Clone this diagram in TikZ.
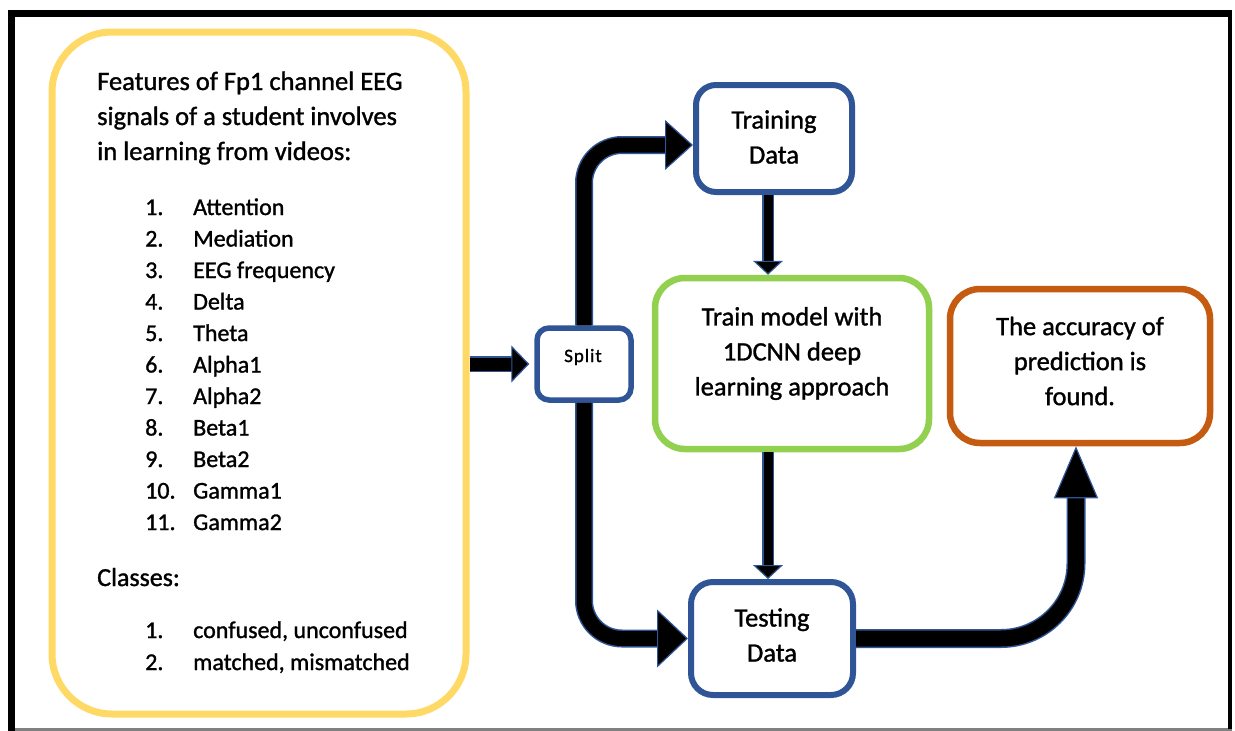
\documentclass[tikz,border=0pt]{standalone}
\usepackage{fontspec}
\setmainfont[FakeBold=1.2]{Carlito}
\usetikzlibrary{arrows.meta,calc}
\definecolor{ybor}{HTML}{FFD966}
\definecolor{bbor}{HTML}{2F5597}
\definecolor{gbor}{HTML}{92D050}
\definecolor{obor}{HTML}{C55A11}
\definecolor{aout}{HTML}{2F5597}
\begin{document}
\begin{tikzpicture}[x=1pt,y=-1pt,
  rbox/.style={draw=#1, rectangle, inner sep=0pt, fill=white},
  lt/.style={inner sep=0pt, anchor=base west, font=\fontsize{24}{29}\selectfont},
  ht/.style={inner sep=0pt, anchor=base west, font=\fontsize{26.5}{35}\selectfont},
  bt/.style={inner sep=0pt, align=center, font=\fontsize{26.5}{35}\selectfont},
  outl/.style={draw=aout, line width=#1},
  core/.style={draw=black, line width=#1},
]
\useasboundingbox (0,0) rectangle (1235,731);
% frame
\draw[gray, line width=2.5pt] (8,729.5) -- (1232,729.5);
\draw[line width=3.5pt] (1230,10) -- (1230,729);
\draw[line width=7pt] (8,13.5) -- (1232,13.5);
\draw[line width=7pt] (11.5,10) -- (11.5,731);

% boxes
\node[rbox=ybor, line width=7pt, rounded corners=60pt, minimum width=414pt, minimum height=682pt] (ybox) at (259,373) {};
\node[rbox=bbor, line width=5.5pt, rounded corners=12pt, minimum width=94pt, minimum height=72pt] (split) at (584,364) {};
\node[rbox=bbor, line width=6pt, rounded corners=20pt, minimum width=156pt, minimum height=107pt] (train) at (774,138.5) {};
\node[rbox=gbor, line width=6.5pt, rounded corners=30pt, minimum width=274pt, minimum height=171pt] (model) at (792,363.5) {};
\node[rbox=obor, line width=6.5pt, rounded corners=30pt, minimum width=260pt, minimum height=154pt] (acc) at (1080,366) {};
\node[rbox=bbor, line width=6pt, rounded corners=22pt, minimum width=162pt, minimum height=113pt] (test) at (772,638.5) {};

% texts in left box
\node[ht] (h1) at (97,90) {Features of Fp1 channel EEG};
\node[ht] (h2) at (97,125) {signals of a student involves};
\node[ht] (h3) at (97,160) {in learning from videos:};
\foreach \n/\t [count=\i] in {1./Attention,2./Mediation,3./EEG frequency,4./Delta,5./Theta,6./Alpha1,7./Alpha2,8./Beta1,9./Beta2,10./Gamma1,11./Gamma2}{
  \pgfmathsetmacro{\yy}{215+31.5*(\i-1)}
  \node[lt] (n\i) at (145,\yy) {\n};
  \node[lt] (f\i) at (193,\yy) {\t};
}
\node[ht, font=\fontsize{26}{35}\selectfont] (cl) at (97,586) {Classes:};
\node[lt] (cn1) at (145,638) {1.};
\node[lt] (c1) at (193,638) {confused, unconfused};
\node[lt] (cn2) at (145,670) {2.};
\node[lt] (c2) at (193,670) {matched, mismatched};

% texts in right boxes
\node[bt, font=\fontsize{19}{24}\addfontfeature{LetterSpace=5}\selectfont] (splitt) at (583,357) {Split};
\node[bt] (traint) at (774,137) {Training\\Data};
\node[bt] (modelt) at (792,353.5) {Train model with\\1DCNN deep\\learning approach};
\node[bt] (acct) at (1080,361) {The accuracy of\\prediction is\\found.};
\node[bt] (testt) at (772,635) {Testing\\Data};

% helper coordinates for the vertical arrows
\coordinate (vt) at ($(train.south)+(-6,0)$);
\coordinate (vm) at (vt |- model.north);
\coordinate (vm2) at (vt |- model.south);
\coordinate (vs) at (vt |- test.north);
\coordinate (ain) at ($(split.west)+(-5,0)$);
\coordinate (aout0) at (ybox.east |- split.west);
\coordinate (tin) at ($(train.west)+(0,6.5)$);
\coordinate (accin) at ($(acc.south)+(-4,0)$);

% arrows
% yellow -> split
\draw[outl=16pt, shorten >=17pt] (aout0) -- (ain);
\draw[core=13pt, -{Triangle[length=18pt,width=37pt,line width=1.2pt,color=aout,fill=black]}] (aout0) -- (ain);
% split -> train
\draw[outl=18pt, rounded corners=38pt, shorten >=27pt] (split.north) |- (tin);
\draw[core=15pt, rounded corners=38pt, -{Triangle[length=28pt,width=50pt,line width=1.2pt,color=aout,fill=black]}] (split.north) |- (tin);
% split -> test
\draw[outl=18pt, rounded corners=38pt, shorten >=30pt] (split.south) |- (test.west);
\draw[core=15pt, rounded corners=38pt, -{Triangle[length=31pt,width=58pt,line width=1.2pt,color=aout,fill=black]}] (split.south) |- (test.west);
% train -> model
\draw[outl=12pt, shorten >=13pt] (vt) -- (vm);
\draw[core=9pt, -{Triangle[length=14pt,width=30pt,line width=1.2pt,color=aout,fill=black]}] (vt) -- (vm);
% model -> test
\draw[outl=12pt, shorten >=13pt] (vm2) -- (vs);
\draw[core=9pt, -{Triangle[length=14pt,width=30pt,line width=1.2pt,color=aout,fill=black]}] (vm2) -- (vs);
% test -> acc
\draw[outl=19pt, rounded corners=75pt, shorten >=51pt] (test.east) -| (accin);
\draw[core=16pt, rounded corners=75pt, -{Triangle[length=52pt,width=44pt,line width=1.2pt,color=aout,fill=black]}] (test.east) -| (accin);
\end{tikzpicture}
\end{document}
